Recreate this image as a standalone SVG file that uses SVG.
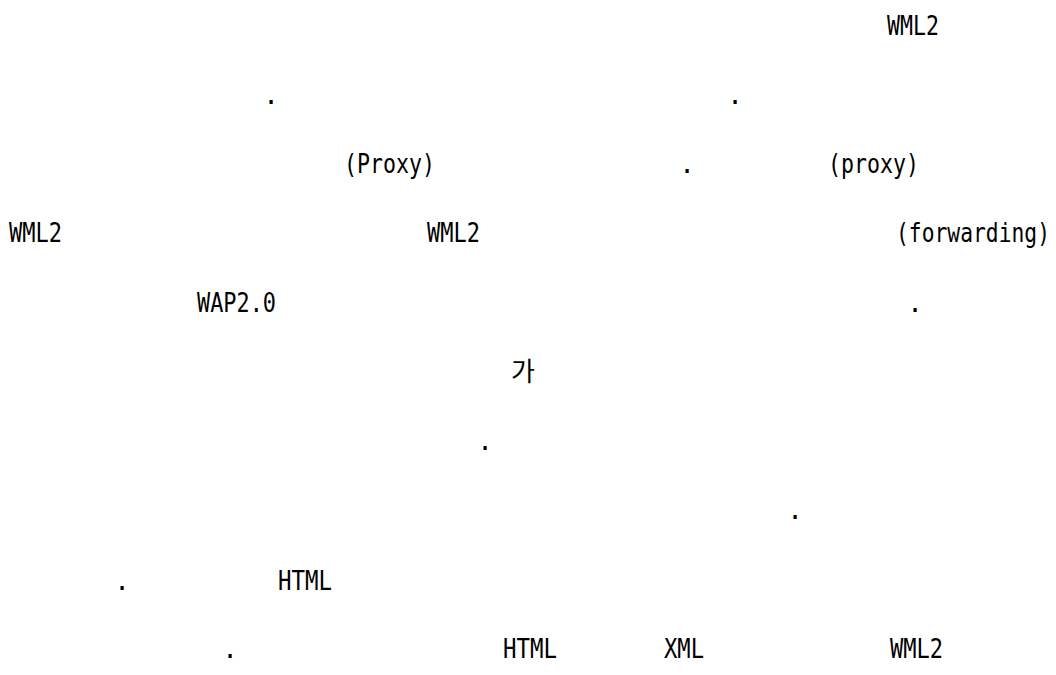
<svg xmlns="http://www.w3.org/2000/svg" width="1056" height="675" viewBox="0 0 1056 675">
<style>
.t{font-family:"DejaVu Sans Mono","Liberation Mono",monospace;font-size:26px;fill:#000;}
.d{font-family:"DejaVu Sans Mono","Liberation Mono",monospace;font-size:26px;fill:#000;text-anchor:middle;}
.k{font-family:"Noto Sans CJK KR","Noto Sans",sans-serif;font-size:26px;fill:#000;}
</style>
<rect width="1056" height="675" fill="#fff"/>
<g id="text">
<text class="t" x="887" y="35" textLength="52" lengthAdjust="spacingAndGlyphs">WML2</text>
<text class="d" x="271" y="104">.</text>
<text class="d" x="735" y="104">.</text>
<text class="t" x="344" y="173" textLength="91" lengthAdjust="spacingAndGlyphs">(Proxy)</text>
<text class="d" x="687" y="173">.</text>
<text class="t" x="828" y="173" textLength="91" lengthAdjust="spacingAndGlyphs">(proxy)</text>
<text class="t" x="9" y="242" textLength="53" lengthAdjust="spacingAndGlyphs">WML2</text>
<text class="t" x="427" y="242" textLength="53" lengthAdjust="spacingAndGlyphs">WML2</text>
<text class="t" x="0" y="0" transform="translate(896,242) scale(0.82,1)">(forwarding)</text>
<text class="t" x="197" y="312" textLength="79" lengthAdjust="spacingAndGlyphs">WAP2.0</text>
<text class="d" x="915" y="312">.</text>
<text class="k" x="511" y="381">가</text>
<text class="d" x="485" y="450">.</text>
<text class="d" x="795" y="519">.</text>
<text class="d" x="122" y="590">.</text>
<text class="t" x="278" y="590" textLength="54" lengthAdjust="spacingAndGlyphs">HTML</text>
<text class="d" x="230" y="658">.</text>
<text class="t" x="503" y="658" textLength="54" lengthAdjust="spacingAndGlyphs">HTML</text>
<text class="t" x="664" y="658" textLength="40" lengthAdjust="spacingAndGlyphs">XML</text>
<text class="t" x="890" y="658" textLength="53" lengthAdjust="spacingAndGlyphs">WML2</text>
</g>
</svg>
